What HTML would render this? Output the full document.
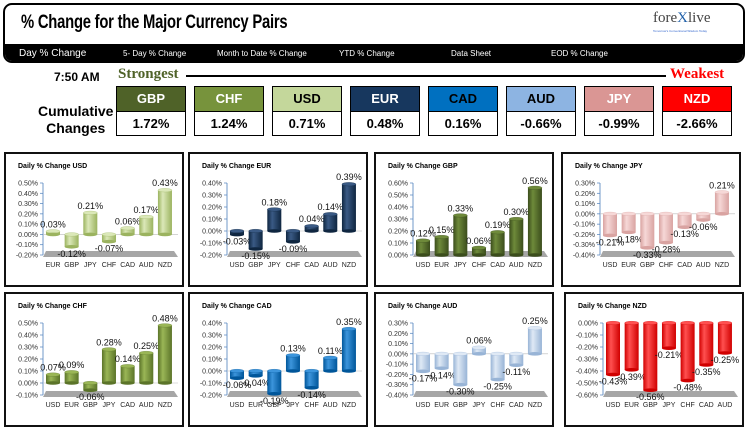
<!DOCTYPE html>
<html><head><meta charset="utf-8">
<style>
body{margin:0;width:749px;height:435px;background:#fff;position:relative;overflow:hidden;font-family:"Liberation Sans",sans-serif}
.abs{position:absolute}
#hdr{left:3px;top:3px;width:738px;height:56px;border:2px solid #000;border-radius:9px;overflow:hidden;background:#fff}
#title{left:16px;top:7px;font:bold 19px "Liberation Sans Narrow","Liberation Sans",sans-serif;transform:scaleX(0.78);transform-origin:left;letter-spacing:-0.3px}
#bar{left:0;top:39px;width:738px;height:19px;background:#000;color:#fff;font-size:8px}
#bar span{position:absolute;top:5px}
.box{position:absolute;width:68px;height:48px;border:1px solid #000}
.box .h{height:24px;border-bottom:1px solid #000;font:bold 13px "Liberation Sans Narrow",sans-serif;text-align:center;line-height:24px}
.box .v{height:23px;background:#fff;font:bold 13px "Liberation Sans Narrow",sans-serif;text-align:center;line-height:23px}
.panel{position:absolute;border:2px solid #111;background:#fff}
</style></head><body>
<div id="hdr" class="abs">
 <div id="title" class="abs">% Change for the Major Currency Pairs</div>
 <div class="abs" style="left:648px;top:5px;font:15px 'Liberation Serif',serif;color:#444">fore<span style="color:#1f5fa8">X</span>live</div>
 <div class="abs" style="left:648px;top:24px;font:3px sans-serif;color:#36c">Tomorrow's Conventional Wisdom Today</div>
 <div id="bar" class="abs">
  <span style="left:14px;top:4px;font-size:10px">Day % Change</span>
  <span style="left:118px">5- Day % Change</span>
  <span style="left:212px">Month to Date % Change</span>
  <span style="left:334px">YTD % Change</span>
  <span style="left:446px">Data Sheet</span>
  <span style="left:546px">EOD % Change</span>
 </div>
</div>
<div class="abs" style="left:54px;top:70px;font:bold 12px 'Liberation Sans Narrow',sans-serif">7:50 AM</div>
<div class="abs" style="left:118px;top:66px;font:bold 15px 'Liberation Serif',serif;color:#4f6228">Strongest</div>
<div class="abs" style="left:186px;top:75px;width:480px;height:2px;background:#000"></div>
<div class="abs" style="left:670px;top:66px;font:bold 15px 'Liberation Serif',serif;color:#f00">Weakest</div>
<div class="abs" style="left:38px;top:103px;font:bold 14px 'Liberation Sans Narrow',sans-serif;text-align:center;line-height:17px">Cumulative<br>Changes</div>
<div id="boxes"></div>
<div id="charts"></div>
<script>
const boxCur=['GBP','CHF','USD','EUR','CAD','AUD','JPY','NZD'];
const boxVal=['1.72%','1.24%','0.71%','0.48%','0.16%','-0.66%','-0.99%','-2.66%'];
const boxX=[116,194,272,350,428,506,584,662];
const boxBg=['#4f6228','#77933c','#c4d79b','#17375e','#0070c0','#8db4e2','#da9694','#ff0000'];
const boxFg=['#fff','#fff','#000','#fff','#000','#000','#fff','#fff'];
const bw=document.getElementById('boxes');
boxCur.forEach((c,i)=>{
 const d=document.createElement('div');d.className='box';
 
 
 d.style.left=boxX[i]+'px';d.style.top='86px';
 d.innerHTML='<div class="h" style="background:'+boxBg[i]+';color:'+boxFg[i]+'">'+c+'</div><div class="v">'+boxVal[i]+'</div>';
 bw.appendChild(d);
});

const usdCats=['EUR','GBP','JPY','CHF','CAD','AUD','NZD'];const usdVals=[0.03,-0.12,0.21,-0.07,0.06,0.17,0.43];
const eurCats=['USD','GBP','JPY','CHF','CAD','AUD','NZD'];const eurVals=[-0.03,-0.15,0.18,-0.09,0.04,0.14,0.39];
const gbpCats=['USD','EUR','JPY','CHF','CAD','AUD','NZD'];const gbpVals=[0.12,0.15,0.33,0.06,0.19,0.30,0.56];
const jpyCats=['USD','EUR','GBP','CHF','CAD','AUD','NZD'];const jpyVals=[-0.21,-0.18,-0.33,-0.28,-0.13,-0.06,0.21];
const chfCats=['USD','EUR','GBP','JPY','CAD','AUD','NZD'];const chfVals=[0.07,0.09,-0.06,0.28,0.14,0.25,0.48];
const cadCats=['USD','EUR','GBP','JPY','CHF','AUD','NZD'];const cadVals=[-0.06,-0.04,-0.19,0.13,-0.14,0.11,0.35];
const audCats=['USD','EUR','GBP','JPY','CHF','CAD','NZD'];const audVals=[-0.17,-0.14,-0.30,0.06,-0.25,-0.11,0.25];
const nzdCats=['USD','EUR','GBP','JPY','CHF','CAD','AUD'];const nzdVals=[-0.43,-0.39,-0.56,-0.21,-0.48,-0.35,-0.25];
const yMins=[-0.2,-0.2,0,-0.4,-0.1,-0.2,-0.4,-0.6];
const yMaxs=[0.5,0.4,0.6,0.3,0.5,0.4,0.3,0];
const charts=[
 ['USD',usdCats,usdVals,'#dbe8b8','#9bb35f'],['EUR',eurCats,eurVals,'#3a5a85','#0f2640'],
 ['GBP',gbpCats,gbpVals,'#6e8a3a','#3b4d1c'],['JPY',jpyCats,jpyVals,'#f6d8d7','#d9a3a1'],
 ['CHF',chfCats,chfVals,'#9ab656','#5b7429'],['CAD',cadCats,cadVals,'#3c95dc','#00569a'],
 ['AUD',audCats,audVals,'#dfe9f5','#98b4d6'],['NZD',nzdCats,nzdVals,'#ff5050','#d00000']];
const px=[4,188,374,561,4,188,374,564], py=[152,152,152,152,292,292,292,292];
const ns='http://www.w3.org/2000/svg';
const cw=document.getElementById('charts');
function el(t,a,p){const e=document.createElementNS(ns,t);for(const k in a)e.setAttribute(k,a[k]);p.appendChild(e);return e;}
charts.forEach((ch,ci)=>{
 const [name,cats,vals,c1,c2]=ch;
 const d=document.createElement('div');d.className='panel';
 
 
 d.style.left=px[ci]+'px';d.style.top=py[ci]+'px';d.style.width='176px';d.style.height='131px';
 cw.appendChild(d);
 const s=el('svg',{width:176,height:131},d);
 const g=el('linearGradient',{id:'g'+ci,x1:0,x2:1,y1:0,y2:0},el('defs',{},s));
 el('stop',{offset:0,'stop-color':c2},g);el('stop',{offset:0.35,'stop-color':c1},g);el('stop',{offset:1,'stop-color':c2},g);
 const t=el('text',{x:12,y:14,'font-size':7,'font-weight':'bold','font-family':'Liberation Sans,sans-serif'},s);
 t.textContent='Daily % Change '+name;
 
 
 const ymin=yMins[ci],ymax=yMaxs[ci];
 const top=29,bot=101,x0=37,x1=172;
 const yS=v=>bot-(v-ymin)/(ymax-ymin)*(bot-top);
 const xS=i=>x0+10+i*(x1-x0-10)/(cats.length-0.3);
 const fl=el('polygon',{points:(x0+3)+','+(bot-4)+' '+(x1-4)+','+(bot-4)+' '+x1+','+(bot+2)+' '+x0+','+(bot+2),fill:'#a6a6a6'},s);
 
 
 const n=Math.round((ymax-ymin)/0.1);
 for(let k=0;k<=n;k++){
  const v=ymin+k*0.1, y=yS(v);
  el('line',{x1:x0-3,x2:x0,y1:y,y2:y,stroke:'#4f81bd','stroke-width':0.7},s);
  const lt=el('text',{x:x0-5,y:y+2.5,'font-size':7,'text-anchor':'end',fill:'#333','font-family':'Liberation Sans,sans-serif'},s);
  lt.textContent=(Math.abs(v)<1e-9?'0.00':v.toFixed(2))+'%';
  
  
 }
 el('line',{x1:x0,x2:x0,y1:top,y2:bot,stroke:'#4f81bd','stroke-width':0.8},s);
 if(ymin<0&&ymax>0) el('line',{x1:x0,x2:x1,y1:yS(0),y2:yS(0),stroke:'#bbb','stroke-width':0.6},s);
 const y0=yS(Math.max(ymin,Math.min(0,ymax)));
 vals.forEach((v,i)=>{
  const cx=xS(i),w=14,yv=yS(v),yt=Math.min(y0,yv),h=Math.abs(yv-y0);
  const b=el('rect',{x:cx-w/2,y:yt,width:w,height:Math.max(h,1),fill:'url(#g'+ci+')'},s);
  
  
  el('ellipse',{cx:cx,cy:yt,rx:w/2,ry:1.8,fill:c1,stroke:c2,'stroke-width':0.3},s);
  el('ellipse',{cx:cx,cy:yt+Math.max(h,1),rx:w/2,ry:1.8,fill:c2},s);
  const lv=el('text',{x:cx,y:v>=0?yv-4:yv+10,'font-size':9,'text-anchor':'middle',fill:'#111','font-family':'Liberation Sans,sans-serif'},s);
  lv.textContent=v.toFixed(2)+'%';
  
  
  const cl=el('text',{x:cx,y:bot+12,'font-size':7,'text-anchor':'middle',fill:'#222','font-family':'Liberation Sans,sans-serif'},s);
  cl.textContent=cats[i];
  
  
 });
});
</script>
</body></html>
